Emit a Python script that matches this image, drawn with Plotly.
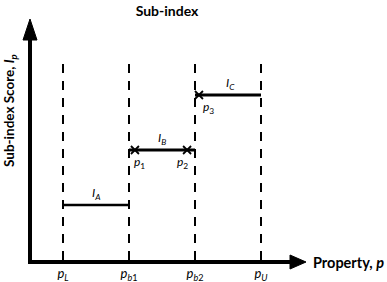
import plotly.graph_objects as go

# ---- data ----
breakpoints = [1.0, 2.0, 3.0, 4.0]          # p_L, p_b1, p_b2, p_U
tick_labels = ["<i>p<sub>L</sub></i>", "<i>p<sub>b</sub></i><sub>1</sub>",
               "<i>p<sub>b</sub></i><sub>2</sub>", "<i>p<sub>U</sub></i>"]
seg_names = ["<i>I<sub>A</sub></i>", "<i>I<sub>B</sub></i>", "<i>I<sub>C</sub></i>"]
seg_start = [1.0, 2.0, 3.0]
seg_end = [2.0, 3.0, 4.0]
seg_level = [1.0, 2.0, 3.0]
pt_names = ["<i>p</i><sub>1</sub>", "<i>p</i><sub>2</sub>", "<i>p</i><sub>3</sub>"]
pt_x = [2.09, 2.88, 3.06]
pt_y = [2.0, 2.0, 3.0]
dash_top = 3.6

W, H = 387, 282
ML, MR, MT, MB = 32, 0, 0, 22
PW, PH = W - ML - MR, H - MT - MB
XPX, YPX = 66.0, 55.0  # pixels per unit
x0 = breakpoints[0] - (63 - ML) / XPX
x1 = x0 + PW / XPX
y0 = 0.0
y1 = PH / YPX

def px(xp):  # pixel -> paper x
    return (xp - ML) / PW

def py(yp):  # pixel -> paper y
    return (MT + PH - yp) / PH

FONT = "Lato"
fig = go.Figure()

# dashed verticals
for b in breakpoints:
    fig.add_trace(go.Scatter(x=[b, b], y=[0, dash_top], mode="lines",
                             line=dict(color="black", width=2, dash="9px,8px"),
                             hoverinfo="skip", showlegend=False))

# sub-index segments
for i in range(len(seg_start)):
    fig.add_trace(go.Scatter(x=[seg_start[i], seg_end[i]], y=[seg_level[i]] * 2,
                             mode="lines", line=dict(color="black", width=2.5 if i == 0 else 3),
                             hoverinfo="skip", showlegend=False))
    fig.add_annotation(x=(seg_start[i] + seg_end[i]) / 2, y=seg_level[i], text=seg_names[i],
                       showarrow=False, yanchor="bottom", yshift=1, xshift=2 if i == 2 else 0,
                       font=dict(family=FONT, size=12, color="black"))

# points
fig.add_trace(go.Scatter(x=pt_x, y=pt_y, mode="markers",
                         marker=dict(symbol="x-thin", size=8, line=dict(color="black", width=1.8)),
                         hoverinfo="skip", showlegend=False))
anch = ["left", "right", "left"]
shift = [-3, 3, 2]
for i in range(len(pt_x)):
    fig.add_annotation(x=pt_x[i], y=pt_y[i], text=pt_names[i], showarrow=False,
                       xanchor=anch[i], xshift=shift[i], yanchor="top", yshift=-2,
                       font=dict(family=FONT, size=12, color="black"))

# axes arrows
fig.add_shape(type="line", xref="paper", yref="paper", x0=px(28), x1=px(292), y0=py(262), y1=py(262),
              line=dict(color="black", width=4))
fig.add_shape(type="path", xref="paper", yref="paper",
              path=f"M{px(290)},{py(255)} L{px(306)},{py(262)} L{px(290)},{py(269)} Z",
              fillcolor="black", line=dict(color="black", width=1))
fig.add_shape(type="line", xref="paper", yref="paper", x0=px(30), x1=px(30), y0=py(264), y1=py(38),
              line=dict(color="black", width=4))
fig.add_shape(type="path", xref="paper", yref="paper",
              path=f"M{px(23)},{py(40)} L{px(30)},{py(19)} L{px(37)},{py(40)} Z",
              fillcolor="black", line=dict(color="black", width=1))

# axis titles
fig.add_annotation(xref="paper", yref="paper", x=px(10), y=py(111), text="Sub-index Score, <i>I<sub>p</sub></i>",
                   textangle=-90, showarrow=False, xanchor="center", yanchor="middle",
                   font=dict(family=FONT, size=13.5, color="black", weight="bold"))
fig.add_annotation(xref="paper", yref="paper", x=px(311), y=py(262), text="Property, <i>p</i>",
                   showarrow=False, xanchor="left", yanchor="middle",
                   font=dict(family=FONT, size=14.5, color="black", weight="bold"))

fig.update_layout(
    width=W, height=H, margin=dict(l=ML, r=MR, t=MT, b=MB),
    paper_bgcolor="white", plot_bgcolor="white",
    title=dict(text="<b>Sub-index</b>", x=167 / W, xanchor="center", y=1 - 11 / H, yanchor="middle",
               font=dict(family=FONT, size=14, color="black")),
    xaxis=dict(range=[x0, x1], showgrid=False, zeroline=False, showline=False,
               tickmode="array", tickvals=breakpoints, ticktext=tick_labels, ticks="",
               ticklabelstandoff=4, tickfont=dict(family=FONT, size=13, color="black")),
    yaxis=dict(range=[y0, y1], showgrid=False, zeroline=False, showline=False,
               showticklabels=False, ticks=""),
    showlegend=False,
)

fig.write_html("out.html", config={"displayModeBar": False},
               post_script="document.body.style.margin='0';document.body.style.overflow='hidden';")
